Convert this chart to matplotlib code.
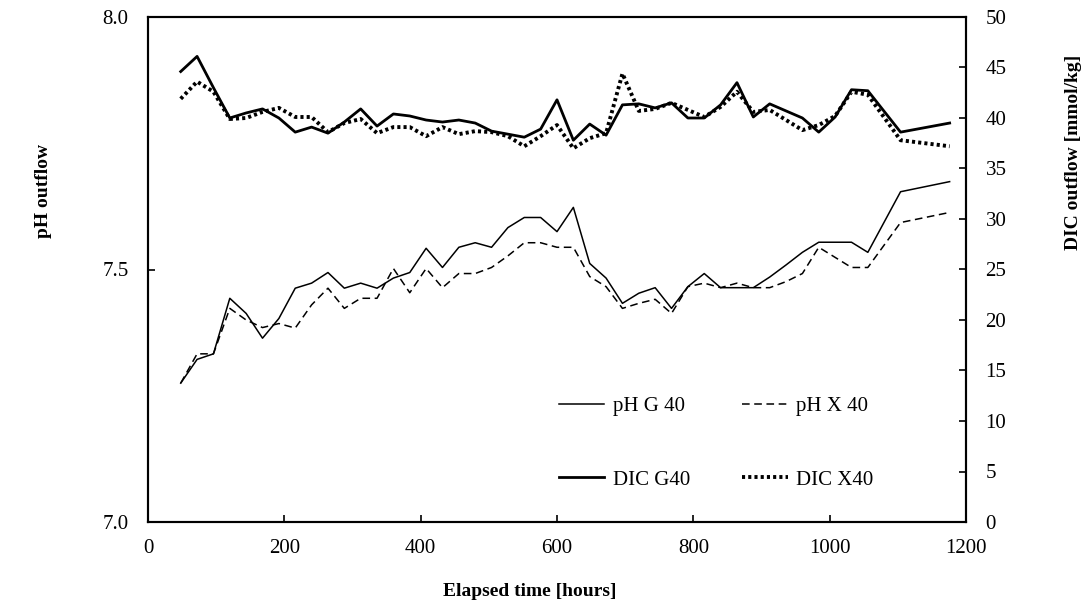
import matplotlib
matplotlib.use("Agg")
import matplotlib.pyplot as plt

plt.rcParams['font.family'] = ['Liberation Serif', 'DejaVu Serif']

# Elapsed time [hours]
hours = [48, 72, 96, 120, 144, 168, 192, 216, 240, 264, 288, 312, 336, 360, 384,
         408, 432, 456, 480, 504, 528, 552, 576, 600, 624, 648, 672, 696, 720, 744,
         768, 792, 816, 840, 864, 888, 912, 936, 960, 984, 1008, 1032, 1056, 1104, 1176]

ph_g40 = [7.275, 7.322, 7.333, 7.443, 7.413, 7.364, 7.403, 7.463, 7.473, 7.494,
          7.463, 7.473, 7.463, 7.483, 7.494, 7.542, 7.504, 7.544, 7.553, 7.544,
          7.583, 7.603, 7.603, 7.575, 7.623, 7.512, 7.483, 7.433, 7.453, 7.464,
          7.423, 7.466, 7.492, 7.464, 7.464, 7.464, 7.485, 7.509, 7.534, 7.554,
          7.554, 7.554, 7.534, 7.654, 7.674]

ph_x40 = [7.275, 7.333, 7.333, 7.423, 7.400, 7.385, 7.393, 7.384, 7.430, 7.463,
          7.423, 7.443, 7.443, 7.502, 7.454, 7.502, 7.464, 7.492, 7.492, 7.504,
          7.527, 7.553, 7.553, 7.544, 7.544, 7.486, 7.466, 7.423, 7.433, 7.441,
          7.413, 7.466, 7.473, 7.464, 7.473, 7.464, 7.464, 7.476, 7.492, 7.544,
          7.524, 7.504, 7.504, 7.593, 7.613]

dic_g40 = [44.6, 46.1, 43.0, 40.0, 40.5, 40.9, 40.0, 38.6, 39.1, 38.5,
           39.6, 40.9, 39.2, 40.4, 40.2, 39.8, 39.6, 39.8, 39.5, 38.7,
           38.4, 38.1, 38.9, 41.8, 37.8, 39.4, 38.3, 41.3, 41.4, 41.0,
           41.5, 40.0, 40.0, 41.3, 43.5, 40.1, 41.4, 40.7, 40.0, 38.6,
           40.1, 42.8, 42.7, 38.6, 39.5]

dic_x40 = [41.9, 43.6, 42.6, 39.9, 40.0, 40.6, 41.0, 40.1, 40.1, 38.6,
           39.5, 39.9, 38.5, 39.1, 39.1, 38.2, 39.1, 38.4, 38.7, 38.6,
           38.2, 37.2, 38.2, 39.3, 37.0, 38.0, 38.5, 44.4, 40.7, 40.9,
           41.5, 40.8, 40.1, 41.1, 42.6, 40.6, 40.8, 39.8, 38.8, 39.3,
           40.2, 42.6, 42.3, 37.8, 37.2]

fig = plt.figure(figsize=(10.87, 6.12), dpi=100)
ax = fig.add_axes([148/1087, 1-522/612, (966-148)/1087, (522-17)/612])
ax2 = ax.twinx()

l1, = ax.plot(hours, ph_g40, color='black', lw=1.1, label='pH G 40')
l2, = ax.plot(hours, ph_x40, color='black', lw=1.1, dashes=(5, 3), label='pH X 40')
l3, = ax2.plot(hours, dic_g40, color='black', lw=2.0, label='DIC G40')
l4, = ax2.plot(hours, dic_x40, color='black', lw=2.8, dashes=(0.8, 0.8),
               dash_capstyle='butt', label='DIC X40')

ax.set_xlim(0, 1200)
ax.set_ylim(7.0, 8.0)
ax2.set_ylim(0, 50)
ax.set_xticks(range(0, 1201, 200))
ax.set_yticks([7.0, 7.5, 8.0])
ax.set_yticklabels(['7.0', '7.5', '8.0'])
ax2.set_yticks(range(0, 51, 5))

for a in (ax, ax2):
    for s in a.spines.values():
        s.set_linewidth(1.5)
        s.set_color('black')
ax.tick_params(axis='x', direction='in', length=5, width=1.2, labelsize=15, pad=12, top=False)
ax.tick_params(axis='y', direction='in', length=5, width=1.2, labelsize=15, pad=14)
ax2.tick_params(axis='y', direction='in', length=5, width=1.2, labelsize=15, pad=14)

fig.text(43/1087, 1-191/612, 'pH outflow', rotation=90, ha='center', va='center',
         fontsize=14, fontweight='bold')
fig.text(1073/1087, 1-152/612, 'DIC outflow [mmol/kg]', rotation=90, ha='center',
         va='center', fontsize=14, fontweight='bold')
fig.text(530/1087, 1-592/612, 'Elapsed time [hours]', ha='center', va='center',
         fontsize=14, fontweight='bold')

fig.legend(handles=[l1, l3, l2, l4], labels=['pH G 40', 'DIC G40', 'pH X 40', 'DIC X40'],
           ncol=2, frameon=False, loc='center', bbox_to_anchor=(716/1087, 1-443/612),
           fontsize=15, labelspacing=2.6, columnspacing=2.5, handlelength=2.2,
           handletextpad=0.4, borderpad=0)

fig.savefig('out.png', dpi=100)
